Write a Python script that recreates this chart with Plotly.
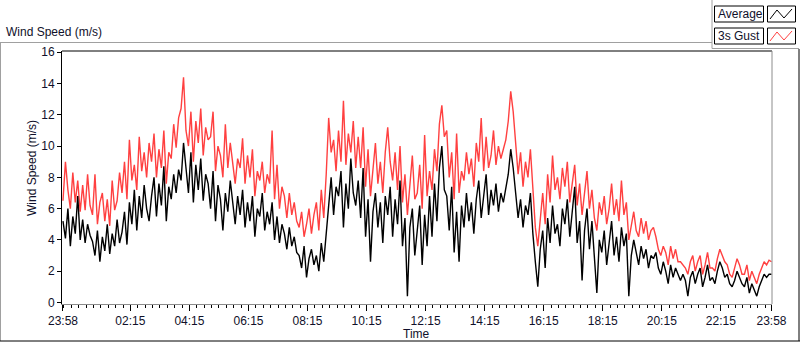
import pandas as pd
import plotly.graph_objects as go

# ---- data (5-minute samples, 23:58 -> 23:58 next day) ----
start_time = "2023-01-01 23:58"
sample_minutes = 5

avg_speed = [
    5.2, 4.1, 6.0, 3.6, 5.5, 4.4, 6.8, 4.0, 5.3, 3.8, 5.0, 4.3,
    3.9, 3.0, 4.6, 2.6, 4.2, 3.3, 5.0, 3.1, 4.4, 3.6, 5.3, 3.8,
    4.5, 5.8, 3.7, 6.4, 5.0, 7.2, 4.6, 6.8, 5.4, 7.5, 6.0, 5.2,
    6.8, 8.0, 5.5, 7.6, 6.2, 8.7, 5.2, 7.4, 6.6, 8.2, 7.0, 8.5,
    7.8, 10.2, 8.6, 7.0, 9.6, 6.4, 8.8, 7.2, 9.2, 6.5, 8.2, 7.6,
    6.0, 8.4, 5.2, 7.5, 6.6, 4.6, 7.0, 5.8, 7.8, 6.2, 5.0, 6.8,
    5.6, 7.2, 4.8, 6.4, 5.2, 6.8, 4.2, 6.0, 5.5, 7.0, 4.6, 5.8,
    5.0, 6.4, 4.0, 5.5, 3.8, 5.0, 4.4, 3.4, 4.8, 3.6, 4.2, 3.2,
    3.0, 2.2, 3.6, 1.6, 2.8, 3.4, 2.4, 3.0, 2.0, 3.8, 2.6, 4.4,
    6.5, 8.0, 5.6, 7.4, 6.8, 8.4, 4.8, 7.6, 6.0, 9.2, 7.0, 6.2,
    7.8, 5.4, 8.6, 4.2, 6.6, 2.6, 5.8, 7.0, 4.8, 6.4, 3.8, 6.8,
    5.6, 7.4, 4.2, 6.6, 5.0, 7.8, 3.6, 5.4, 0.4, 4.8, 6.0, 3.0,
    4.6, 6.2, 2.4, 5.6, 3.6, 6.8, 4.2, 7.6, 5.2, 8.6, 10.0, 7.2,
    6.8, 4.6, 7.4, 3.2, 5.8, 2.6, 6.2, 4.8, 7.0, 5.2, 6.4, 4.4,
    6.6, 7.8, 5.4, 6.8, 8.2, 5.6, 7.2, 6.2, 7.6, 5.8, 7.0, 6.4,
    7.2, 8.2, 9.8, 8.6, 7.0, 5.4, 6.6, 4.8, 6.2, 5.6, 7.0, 4.4,
    2.6, 1.0, 3.4, 4.6, 2.2, 5.4, 3.8, 6.2, 4.4, 5.0, 3.6, 6.0,
    5.0, 6.6, 4.2, 5.6, 7.4, 3.8, 5.2, 1.4, 4.6, 6.0, 3.4, 5.2,
    2.8, 0.6, 4.0, 3.2, 4.6, 2.4, 3.8, 5.2, 3.0, 4.2, 2.6, 4.8,
    3.6, 4.4, 0.4, 3.0, 4.0, 3.2, 2.4, 3.6, 2.8, 3.4, 2.2, 3.0,
    2.8, 3.2, 2.2, 1.8, 2.6, 2.0, 1.2, 2.4, 1.6, 2.2, 1.8, 1.4,
    1.8, 1.4, 0.4, 1.6, 2.0, 1.2, 1.8, 2.2, 1.0, 1.6, 2.4, 1.4,
    1.6, 1.2, 2.0, 2.6, 2.2, 1.6, 1.8, 1.2, 1.0, 1.4, 2.0, 1.6,
    1.2, 1.0, 1.6, 0.6, 1.2, 0.8, 0.4, 1.0, 1.4, 1.8, 1.6, 1.8,
    1.8,
]

gust_speed = [
    6.5, 9.0, 7.2, 6.0, 8.3, 6.4, 7.8, 5.8, 7.5, 5.9, 8.2, 6.2,
    5.6, 8.2, 5.0, 6.4, 7.0, 5.2, 6.6, 4.9, 7.8, 5.9, 6.5, 8.3,
    7.0, 9.0, 6.6, 10.4, 7.8, 8.8, 7.2, 10.6, 8.4, 9.6, 8.0, 10.2,
    9.0, 10.8, 8.0, 9.8, 8.6, 11.0, 7.6, 9.6, 9.2, 11.4, 9.9, 11.8,
    12.4, 14.4, 11.0, 10.0, 12.2, 9.0, 11.6, 10.2, 12.4, 9.4, 11.2, 10.4,
    10.6, 12.2, 8.4, 10.0, 9.4, 8.0, 11.4, 8.6, 10.2, 9.0, 7.6, 9.2,
    8.6, 10.5, 7.6, 9.4, 8.0, 9.8, 6.8, 8.4, 7.8, 9.0, 7.0, 8.2,
    7.6, 11.0, 6.6, 8.8, 6.0, 7.4, 6.8, 5.4, 7.0, 5.6, 6.4, 5.2,
    4.8, 5.8, 4.2, 5.0, 6.0, 4.4, 5.6, 6.4, 4.6, 7.2, 5.4, 8.2,
    11.8, 9.6, 10.4, 8.4, 11.0, 9.0, 12.9, 8.8, 10.8, 9.6, 11.6, 8.6,
    10.6, 8.6, 11.2, 7.4, 9.8, 6.8, 8.4, 10.2, 7.6, 9.0, 7.0, 9.6,
    11.2, 9.0, 7.8, 9.6, 7.2, 10.0, 6.4, 8.2, 5.6, 7.6, 9.4, 6.6,
    7.0, 8.8, 6.0, 10.7, 6.8, 8.4, 7.2, 9.8, 8.4, 11.4, 12.6, 10.6,
    11.0, 8.0, 9.6, 6.6, 10.8, 7.0, 8.4, 7.8, 9.6, 8.2, 9.2, 7.4,
    10.2, 9.0, 11.8, 8.4, 10.6, 8.6, 9.4, 11.0, 8.8, 10.0, 9.2, 9.8,
    10.4, 11.6, 13.5, 12.2, 10.0, 8.2, 9.6, 7.4, 9.0, 8.0, 9.8, 7.0,
    4.8, 3.6, 5.4, 7.0, 5.0, 8.2, 6.4, 9.4, 7.2, 8.0, 6.6, 8.6,
    7.4, 9.0, 6.4, 7.8, 8.8, 6.2, 7.6, 5.6, 7.0, 8.4, 6.0, 7.2,
    5.4, 4.6, 6.4, 5.6, 6.8, 5.0, 6.0, 7.6, 5.6, 6.6, 5.2, 7.8,
    5.6, 6.4, 4.0, 5.0, 5.8, 4.6, 4.2, 5.4, 4.4, 5.2, 4.0, 4.6,
    4.8, 4.2, 3.4, 3.0, 3.6, 3.2, 2.4, 3.6, 2.8, 3.4, 2.6, 2.6,
    2.4, 2.2, 1.8, 2.6, 3.0, 2.0, 2.6, 3.0, 1.8, 2.4, 3.2, 2.2,
    2.2, 2.0, 2.8, 3.4, 3.0, 2.6, 2.4, 1.8, 1.6, 2.2, 2.8, 2.4,
    1.8, 1.8, 2.4, 1.4, 2.0, 1.6, 1.2, 1.8, 2.2, 2.6, 2.4, 2.7,
    2.6,
]

tick_times = ["2023-01-01 23:58", "2023-01-02 02:15", "2023-01-02 04:15",
              "2023-01-02 06:15", "2023-01-02 08:15", "2023-01-02 10:15",
              "2023-01-02 12:15", "2023-01-02 14:15", "2023-01-02 16:15",
              "2023-01-02 18:15", "2023-01-02 20:15", "2023-01-02 22:15",
              "2023-01-02 23:58"]
tick_labels = ["23:58", "02:15", "04:15", "06:15", "08:15", "10:15", "12:15",
               "14:15", "16:15", "18:15", "20:15", "22:15", "23:58"]
y_ticks = [0, 2, 4, 6, 8, 10, 12, 14, 16]

n = min(len(avg_speed), len(gust_speed))
times = pd.date_range(start_time, periods=n, freq=f"{sample_minutes}min")

# ---- geometry helpers (pixels -> paper coords) ----
W, H = 800, 342
PL, PR, PT, PB = 62, 772, 51, 304


def px(x):
    return (x - PL) / (PR - PL)


def py(y):
    return (PB - y) / (PB - PT)


FONT = "Liberation Sans, Arial, sans-serif"
TXT = "#10102a"

fig = go.Figure()
fig.add_trace(go.Scatter(x=times, y=gust_speed[:n], mode="lines", name="3s Gust",
                         line=dict(color="#ff4040", width=1.4)))
fig.add_trace(go.Scatter(x=times, y=avg_speed[:n], mode="lines", name="Average",
                         line=dict(color="#000000", width=1.4)))

x0 = pd.Timestamp(tick_times[0]) - pd.Timedelta(minutes=2)
x1 = pd.Timestamp(tick_times[-1]) + pd.Timedelta(minutes=1)

fig.update_layout(
    width=W, height=H,
    margin=dict(l=PL, r=W - PR, t=PT, b=H - PB, autoexpand=False),
    paper_bgcolor="white", plot_bgcolor="white",
    showlegend=False,
    font=dict(family=FONT, size=12, color=TXT),
    xaxis=dict(
        type="date", range=[x0, x1], automargin=False,
        tickmode="array", tickvals=tick_times, ticktext=tick_labels,
        ticks="outside", ticklen=6, tickcolor="black", tickwidth=1,
        showgrid=False, zeroline=False,
        showline=True, linecolor="#8c8c8c", linewidth=1,
        tickfont=dict(family=FONT, size=12, color=TXT),
        minor=dict(tick0="2023-01-02 00:15", dtick=15 * 60 * 1000,
                   ticks="outside", ticklen=3, tickcolor="black", showgrid=False),
    ),
    yaxis=dict(
        range=[-0.1, 16.08], automargin=False,
        tickmode="array", tickvals=y_ticks,
        ticks="outside", ticklen=4, tickcolor="black",
        showgrid=False, zeroline=False,
        showline=True, linecolor="black", linewidth=1,
        tickfont=dict(family=FONT, size=12, color=TXT),
    ),
)

shapes = []
# plot frame: top black, right gray
shapes.append(dict(type="line", xref="paper", yref="paper", x0=0, x1=1, y0=1, y1=1,
                   line=dict(color="black", width=1)))
shapes.append(dict(type="line", xref="paper", yref="paper", x0=1, x1=1, y0=0, y1=1,
                   line=dict(color="#8c8c8c", width=1)))
# outer panel frame
shapes.append(dict(type="line", xref="paper", yref="paper", x0=px(0), x1=px(712),
                   y0=py(42.5), y1=py(42.5), line=dict(color="#a0a0a0", width=1)))
shapes.append(dict(type="line", xref="paper", yref="paper", x0=px(0.5), x1=px(0.5),
                   y0=py(42.5), y1=py(341), line=dict(color="#a0a0a0", width=1)))
shapes.append(dict(type="line", xref="paper", yref="paper", x0=px(0), x1=px(800),
                   y0=py(341), y1=py(341), line=dict(color="black", width=1)))
shapes.append(dict(type="line", xref="paper", yref="paper", x0=px(799), x1=px(799),
                   y0=py(49), y1=py(341), line=dict(color="black", width=1)))
# legend panel edges
shapes.append(dict(type="line", xref="paper", yref="paper", x0=px(712), x1=px(712),
                   y0=py(0), y1=py(48.5), line=dict(color="#a0a0a0", width=1)))
shapes.append(dict(type="line", xref="paper", yref="paper", x0=px(712), x1=px(799),
                   y0=py(48.5), y1=py(48.5), line=dict(color="#a0a0a0", width=1)))

legend_rows = [("Average", "black", 6), ("3s Gust", "#ff4040", 28)]
annotations = []
for label, col, top in legend_rows:
    bot = top + 16
    shapes.append(dict(type="rect", xref="paper", yref="paper",
                       x0=px(714.5), x1=px(763.5), y0=py(bot), y1=py(top),
                       line=dict(color="black", width=1), fillcolor="white"))
    shapes.append(dict(type="rect", xref="paper", yref="paper",
                       x0=px(767.5), x1=px(795.5), y0=py(bot), y1=py(top),
                       line=dict(color="black", width=1), fillcolor="white"))
    pts = [(770, bot - 3), (777, top + 4), (784, bot - 4), (792, top + 3)]
    path = "M " + " L ".join(f"{px(a):.5f},{py(b):.5f}" for a, b in pts)
    shapes.append(dict(type="path", xref="paper", yref="paper", path=path,
                       line=dict(color=col, width=1)))
    annotations.append(dict(text=label, xref="paper", yref="paper",
                            x=px(716), y=py((top + bot) / 2), xanchor="left",
                            yanchor="middle", showarrow=False,
                            font=dict(family=FONT, size=12, color=TXT)))

annotations.append(dict(text="Wind Speed (m/s)", xref="paper", yref="paper",
                        x=px(4), y=py(32), xanchor="left", yanchor="middle",
                        showarrow=False, font=dict(family=FONT, size=12, color=TXT)))
annotations.append(dict(text="Wind Speed (m/s)", xref="paper", yref="paper",
                        x=px(32), y=py(168), xanchor="center", yanchor="middle",
                        textangle=-90, showarrow=False,
                        font=dict(family=FONT, size=12, color=TXT)))
annotations.append(dict(text="Time", xref="paper", yref="paper",
                        x=px(416), y=py(334), xanchor="center", yanchor="middle",
                        showarrow=False, font=dict(family=FONT, size=12, color=TXT)))

fig.update_layout(shapes=shapes, annotations=annotations)
fig.write_html("out.html",
               config={"displayModeBar": False},
               post_script="document.body.style.margin='0';"
                           "document.body.style.overflow='hidden';")
